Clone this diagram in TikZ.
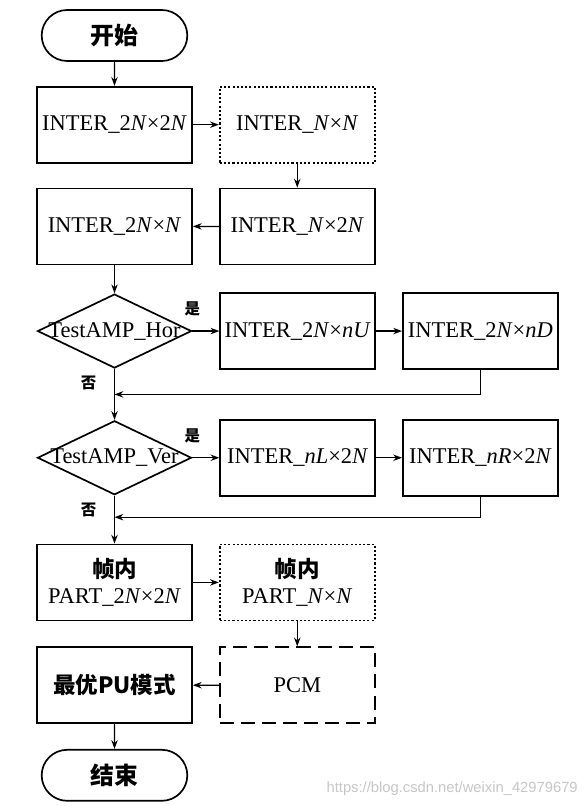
\documentclass[tikz,border=0pt]{standalone}
\usepackage{fontspec}
\setmainfont{Liberation Serif}
\newfontfamily\cjk{Noto Sans CJK SC}
\newfontfamily\wmfont{Liberation Sans}
\usetikzlibrary{shapes.geometric, shapes.misc, arrows.meta, positioning, calc}

\begin{document}
\begin{tikzpicture}[
    node distance=0.6cm and 0.65cm,
    every node/.style={font=\fontsize{16}{19}\selectfont},
    term/.style={rounded rectangle, draw, line width=1.2pt, minimum width=3.875cm,
                 minimum height=1.275cm, font=\cjk\bfseries\fontsize{17}{20}\selectfont},
    proc/.style={rectangle, draw, line width=1.2pt, minimum width=3.875cm,
                 minimum height=1.9cm, align=center, inner sep=1pt},
    dotbox/.style={proc, line width=1.3pt, dash pattern=on 1.5pt off 1.5pt},
    dashbox/.style={proc, line width=1.3pt, dash pattern=on 10pt off 5pt},
    test/.style={diamond, draw, line width=1.2pt, minimum width=3.85cm,
                 minimum height=1.85cm, inner sep=0pt},
    lbl/.style={font=\cjk\bfseries\fontsize{11}{13}\selectfont},
    zh/.style={font=\cjk\bfseries\fontsize{16}{19}\selectfont},
    wmark/.style={font=\wmfont\fontsize{10.5}{12}\selectfont, text=gray!45, inner sep=0pt},
    arrow/.style={-{Stealth[length=2.2mm, width=1.6mm]}, line width=0.9pt}
]
\useasboundingbox (-2.8625,0.8875) rectangle (11.8375,-19.2625);

% Start
\node[term] (start) at (0,0) {开始};

% INTER 2Nx2N / NxN
\node[proc, below=of start] (inter2n2n) {INTER\_2\textit{N}×2\textit{N}};
\node[dotbox, right=of inter2n2n] (internn) {INTER\_\textit{N}×\textit{N}};

% INTER 2NxN / Nx2N
\node[proc, below=of internn] (intern2n) {INTER\_\textit{N}×2\textit{N}};
\node[proc, below=of inter2n2n] (inter2nn) {INTER\_2\textit{N}×\textit{N}};

% Horizontal test
\node[test, below=0.7cm of inter2nn, label={center:TestAMP\_Hor}] (hor) {};
\node[proc, right=0.675cm of hor] (inter2nnu) {INTER\_2\textit{N}×\textit{nU}};
\node[proc, right=of inter2nnu] (inter2nnd) {INTER\_2\textit{N}×\textit{nD}};

% Vertical test
\node[test, below=1.275cm of hor, label={center:TestAMP\_Ver}] (ver) {};
\node[proc, right=0.675cm of ver] (internl) {INTER\_\textit{nL}×2\textit{N}};
\node[proc, right=of internl] (internr) {INTER\_\textit{nR}×2\textit{N}};

% Intra
\node[proc, below=1.2cm of ver] (intra2n2n) {{\cjk\bfseries 帧内}\\PART\_2\textit{N}×2\textit{N}};
\node[dotbox, right=of intra2n2n] (intrann) {{\cjk\bfseries 帧内}\\PART\_\textit{N}×\textit{N}};

% PCM and best mode
\node[dashbox, below=0.625cm of intrann] (pcm) {PCM};
\node[proc, zh, below=0.625cm of intra2n2n] (best) {最优PU模式};

% End
\node[term, below=0.625cm of best] (stop) {结束};

% Yes / no labels
\node[lbl] (yes1) at ([yshift=0.55cm]hor.east) {是};
\node[lbl] (no1) at ([xshift=-0.65cm,yshift=-0.35cm]hor.south) {否};
\node[lbl] (yes2) at ([yshift=0.55cm]ver.east) {是};
\node[lbl] (no2) at ([xshift=-0.65cm,yshift=-0.35cm]ver.south) {否};

% Junctions
\coordinate (j1) at ($(hor.south)!0.5!(ver.north)$);
\coordinate (j2) at ($(ver.south)!0.45!(intra2n2n.north)$);

% Arrows
\draw[arrow] (start) -- (inter2n2n);
\draw[arrow] (inter2n2n) -- (internn);
\draw[arrow] (internn) -- (intern2n);
\draw[arrow] (intern2n) -- (inter2nn);
\draw[arrow] (inter2nn) -- (hor);
\draw[arrow] (hor.east) -- (inter2nnu);
\draw[arrow] (inter2nnu) -- (inter2nnd);
\draw[arrow] (inter2nnd.south) |- (j1);
\draw[arrow] (hor.south) -- (ver.north);
\draw[arrow] (ver.east) -- (internl);
\draw[arrow] (internl) -- (internr);
\draw[arrow] (internr.south) |- (j2);
\draw[arrow] (ver.south) -- (intra2n2n);
\draw[arrow] (intra2n2n) -- (intrann);
\draw[arrow] (intrann) -- (pcm);
\draw[arrow] (pcm) -- (best);
\draw[arrow] (best) -- (stop);

% Watermark
\node[wmark, anchor=east] (wm) at (11.5875,-18.8375) {https://blog.csdn.net/weixin\_42979679};

\end{tikzpicture}
\end{document}
